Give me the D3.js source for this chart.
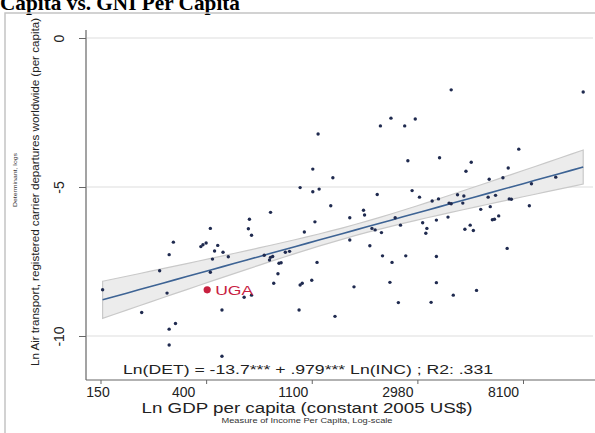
<!DOCTYPE html>
<html><head><meta charset="utf-8">
<script src="https://cdn.jsdelivr.net/npm/d3@7"></script>
<style>html,body{margin:0;padding:0;background:#fff;overflow:hidden}</style>
</head><body><svg id="c" width="595" height="433"></svg>
<script>
// ---- data (log units) ----
const lnGDP = [7.06,7.01,7.20,6.89,7.01,7.07,7.18,6.61,6.41,7.03,6.04,6.40,6.93,6.43,5.95,5.97,6.00,6.11,6.08,6.16,
  6.21,6.06,6.55,6.61,6.63,6.60,6.75,6.79,6.69,6.71,6.68,6.04,5.69,5.65,5.56,7.05,5.02,5.63,6.36,6.43,
  6.64,6.89,6.91,7.00,5.39,6.15,6.88,7.22,5.71,5.65,5.65,6.15,
  8.32,9.57,7.75,7.98,7.65,7.88,8.96,7.91,8.21,8.51,8.46,8.86,8.68,8.81,9.08,9.31,7.62,7.95,
  8.02,8.14,8.20,8.38,8.44,8.30,8.32,8.43,8.67,8.74,8.87,8.89,7.49,7.50,7.36,7.79,8.60,8.69,9.06,7.57,
  7.60,7.84,8.05,8.09,8.08,8.18,8.29,8.71,8.73,8.77,8.45,8.50,8.53,7.66,7.36,7.55,7.67,7.89,7.76,8.18,
  8.85,7.40,7.74,8.18,8.56,8.34,7.82,8.13];
const lnDET = [-3.22,-4.40,-4.69,-5.02,-5.16,-5.07,-5.63,-5.85,-6.08,-6.17,-6.39,-6.40,-6.51,-6.62,-7.00,-6.94,-6.88,-6.96,-7.15,-7.19,
  -7.34,-7.42,-7.29,-7.36,-7.33,-7.45,-7.19,-7.16,-7.56,-7.54,-7.91,-7.86,-6.85,-7.27,-7.81,-7.53,-8.45,-8.56,-8.70,-8.63,
  -8.23,-8.29,-8.23,-8.13,-9.21,-9.13,-9.13,-9.34,-9.58,-9.77,-10.30,-10.68,
  -1.74,-1.81,-2.69,-2.72,-2.95,-2.95,-3.73,-4.12,-4.02,-4.17,-4.47,-4.36,-4.74,-4.69,-4.89,-4.67,-5.25,-5.12,
  -5.34,-5.47,-5.40,-5.26,-5.30,-5.54,-5.56,-5.54,-5.34,-5.28,-5.40,-5.41,-5.78,-5.94,-6.03,-6.03,-5.75,-5.66,-5.63,-6.39,
  -6.44,-6.28,-6.20,-6.39,-6.55,-6.11,-6.01,-6.10,-6.08,-5.97,-6.42,-6.28,-6.46,-6.53,-6.78,-6.97,-7.31,-7.31,-7.53,-7.33,
  -7.06,-8.35,-8.20,-8.21,-8.47,-8.63,-8.88,-8.87];
const highlightLabel = ["UGA"];
const highlightGDP = [6.01];
const highlightDET = [-8.45];
const fitIntercept = -13.7, fitSlope = 0.979;
const ciMinSq = 0.035, ciSlopeSq = 0.062, ciCenter = 7.4; // band half-width^2 = a + b (x - c)^2
const xTicks = [5,6,7,8,9];
const xTickLabels = ["150","400","1100","2980","8100"];
const yTicks = [0,-5,-10];
const yTickLabels = ["0","-5","-10"];

// ---- layout ----
const svg = d3.select("#c");
const x = d3.scaleLinear().domain([5,9]).range([100.5,523]);
const y = d3.scaleLinear().domain([0,-10]).range([38,336]);
const axL = 86, axB = 380, axR = 595, axT = 30;
const xLabelNudge = [-3,-23,-19,-20,-20]; // label placement as in the reference
const font = "Liberation Sans, Arial, sans-serif";

// title (cut off at top)
svg.append("text").attr("x",0).attr("y",10)
  .attr("font-family","Liberation Serif, Times New Roman, serif").attr("font-weight","bold")
  .attr("font-size",21).attr("textLength",240).attr("lengthAdjust","spacingAndGlyphs")
  .text("Capita vs. GNI Per Capita");

// outer frame
svg.append("rect").attr("x",5).attr("y",13).attr("width",640).attr("height",460)
  .attr("fill","none").attr("stroke","#c4c4c4").attr("stroke-width",1.5);

// gridlines
svg.append("g").selectAll("line").data(yTicks).join("line")
  .attr("x1",axL+1).attr("x2",593).attr("y1",d=>y(d)).attr("y2",d=>y(d))
  .attr("stroke","#e8e8e8").attr("stroke-width",1.5);

// CI band
const xr = d3.extent(lnGDP);
const xs = d3.range(0,41).map(i=>xr[0]+(xr[1]-xr[0])*i/40);
const fit = v=>fitIntercept+fitSlope*v;
const hw = v=>Math.sqrt(ciMinSq+ciSlopeSq*(v-ciCenter)*(v-ciCenter));
const area = d3.area().x(d=>x(d)).y0(d=>y(fit(d)-hw(d))).y1(d=>y(fit(d)+hw(d)));
svg.append("path").attr("d",area(xs)+"Z")
  .attr("fill","#ececec").attr("stroke","#c9c9c9").attr("stroke-width",1.2);
svg.append("path").datum(xs).attr("d",d3.line().x(d=>x(d)).y(d=>y(fit(d))))
  .attr("fill","none").attr("stroke","#3d6394").attr("stroke-width",1.6);

// points
svg.append("g").selectAll("circle").data(lnGDP.map((v,i)=>[v,lnDET[i]])).join("circle")
  .attr("cx",d=>x(d[0])).attr("cy",d=>y(d[1])).attr("r",1.7).attr("fill","#1f2a4f");

// highlight
svg.append("g").selectAll("circle").data(highlightLabel).join("circle")
  .attr("cx",(d,i)=>x(highlightGDP[i])).attr("cy",(d,i)=>y(highlightDET[i])).attr("r",3.6).attr("fill","#c8203f");
svg.append("g").selectAll("text").data(highlightLabel).join("text")
  .attr("x",(d,i)=>x(highlightGDP[i])+8).attr("y",(d,i)=>y(highlightDET[i])+5.5)
  .attr("font-family",font).attr("font-size",13).attr("fill","#c8203f")
  .attr("textLength",38).attr("lengthAdjust","spacingAndGlyphs").text(d=>d);

// axes lines
svg.append("line").attr("x1",axL).attr("x2",axL).attr("y1",axT).attr("y2",axB).attr("stroke","#666").attr("stroke-width",1.2);
svg.append("line").attr("x1",axL).attr("x2",axR).attr("y1",axB).attr("y2",axB).attr("stroke","#666").attr("stroke-width",1.2);

// y ticks + rotated labels
const yAxis = svg.append("g").attr("transform",`translate(${axL},0)`)
  .call(d3.axisLeft(y).tickValues(yTicks).tickSize(7).tickFormat((d,i)=>yTickLabels[i]));
yAxis.select(".domain").remove();
yAxis.selectAll(".tick line").attr("stroke","#666");
yAxis.selectAll(".tick text").attr("x",0)
  .attr("transform","translate(-27,0) rotate(-90)").attr("text-anchor","middle").attr("dy","0.35em")
  .attr("font-family",font).attr("font-size",14).attr("fill","#222");

// x ticks + labels
const xAxis = svg.append("g").attr("transform",`translate(0,${axB})`)
  .call(d3.axisBottom(x).tickValues(xTicks).tickSize(4).tickFormat((d,i)=>xTickLabels[i]));
xAxis.select(".domain").remove();
xAxis.selectAll(".tick line").attr("stroke","#666");
xAxis.selectAll(".tick text").attr("y",17).attr("dy",0).attr("x",(d,i)=>xLabelNudge[i])
  .attr("font-family",font).attr("font-size",14).attr("fill","#222");

// annotation
svg.append("text").attr("x",123).attr("y",374).attr("font-family",font).attr("font-size",12).attr("fill","#222")
  .attr("textLength",370).attr("lengthAdjust","spacingAndGlyphs")
  .text("Ln(DET) = -13.7*** + .979*** Ln(INC) ; R2: .331");

// axis titles
svg.append("text").attr("x",307).attr("y",413).attr("text-anchor","middle").attr("font-family",font)
  .attr("font-size",14).attr("fill","#222").attr("textLength",331).attr("lengthAdjust","spacingAndGlyphs")
  .text("Ln GDP per capita (constant 2005 US$)");
svg.append("text").attr("x",307).attr("y",423).attr("text-anchor","middle").attr("font-family",font)
  .attr("font-size",7.5).attr("fill","#333").attr("textLength",171).attr("lengthAdjust","spacingAndGlyphs")
  .text("Measure of Income Per Capita, Log-scale");
svg.append("text").attr("transform","translate(39,192) rotate(-90)").attr("text-anchor","middle")
  .attr("font-family",font).attr("font-size",10.5).attr("fill","#222")
  .attr("textLength",348).attr("lengthAdjust","spacingAndGlyphs")
  .text("Ln Air transport, registered carrier departures worldwide (per capita)");
svg.append("text").attr("transform","translate(17,180) rotate(-90)").attr("text-anchor","middle")
  .attr("font-family",font).attr("font-size",6).attr("fill","#333")
  .attr("textLength",54).attr("lengthAdjust","spacingAndGlyphs")
  .text("Determinant, logs");
</script></body></html>
